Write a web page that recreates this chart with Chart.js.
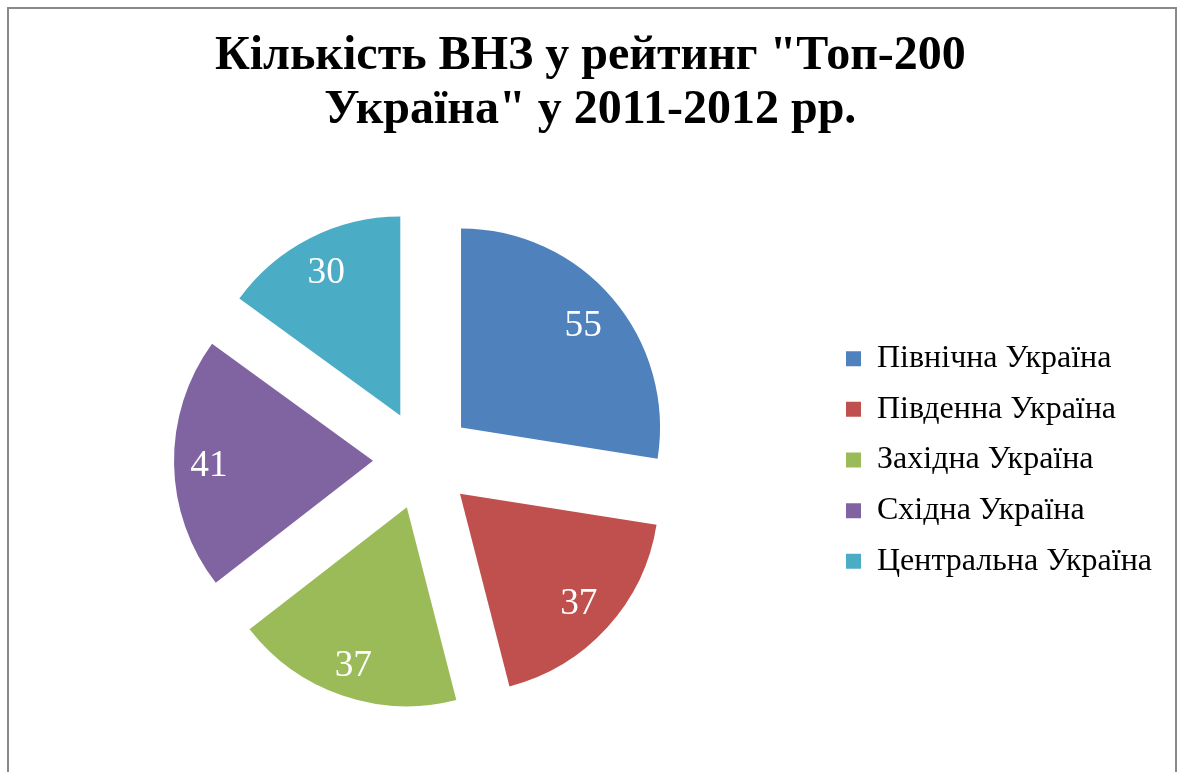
<!DOCTYPE html>
<html>
<head>
<meta charset="utf-8">
<script src="https://cdn.jsdelivr.net/npm/chart.js@4"></script>
<style>
  html, body { margin: 0; padding: 0; background: #fff; overflow: hidden; }
  #ramka {
    position: absolute; left: 7px; top: 7px;
    width: 1166px; height: 800px;
    border: 2px solid #898989; border-bottom: none;
  }
  #grafik { position: absolute; left: 0; top: 0; }
</style>
</head>
<body>
<div id="ramka"></div>
<canvas id="grafik" width="1179" height="800"></canvas>
<script>
// дані діаграми
const regiony = ["Північна Україна", "Південна Україна", "Західна Україна", "Східна Україна", "Центральна Україна"];
const kilkist = [55, 37, 37, 41, 30];
const kolory = ["#4F81BD", "#C0504D", "#9BBB59", "#8064A2", "#4BACC6"];
const zagolovok = ["Кількість ВНЗ у рейтинг \"Топ-200", "Україна\" у 2011-2012 рр."];

const ROZSUV = 50; // наскільки відсунуті сектори
const shryft = "'Liberation Serif', 'Times New Roman', serif";

// малюємо сектори зі зсувом від центру (як "розрізана" діаграма в Excel)
const rozsuvPlugin = {
  id: "rozsuv",
  beforeDatasetDraw(chart, args) {
    const ctx = chart.ctx;
    args.meta.data.forEach((arc) => {
      const mid = (arc.startAngle + arc.endAngle) / 2;
      ctx.save();
      ctx.translate(Math.cos(mid) * ROZSUV, Math.sin(mid) * ROZSUV);
      arc.draw(ctx);
      ctx.restore();
    });
    return false;
  },
  afterDatasetsDraw(chart) {
    const ctx = chart.ctx;
    const meta = chart.getDatasetMeta(0);
    const rozmir = 37.33;
    ctx.save();
    ctx.font = rozmir + "px " + shryft;
    ctx.fillStyle = "#fff";
    ctx.textAlign = "center";
    ctx.textBaseline = "alphabetic";
    meta.data.forEach((arc, i) => {
      const mid = (arc.startAngle + arc.endAngle) / 2;
      const cos = Math.cos(mid);
      const sin = Math.sin(mid);
      const tekst = String(kilkist[i]);
      const w = ctx.measureText(tekst).width;
      const h = rozmir * 0.676; // висота цифр
      // підпис всередині сектора, біля зовнішнього краю
      const pol = Math.abs(cos) * w / 2 + Math.abs(sin) * h / 2;
      const r = arc.outerRadius - pol - 16 + ROZSUV;
      ctx.fillText(tekst, arc.x + cos * r, arc.y + sin * r + h / 2);
    });
    ctx.restore();
  }
};

const config = {
  type: "pie",
  data: {
    labels: regiony,
    datasets: [
      {
        data: kilkist,
        backgroundColor: kolory,
        borderWidth: 0,
      },
    ],
  },
  options: {
    responsive: false,
    animation: false,
    events: [],
    radius: 199,
    layout: {
      padding: { left: 18.7, right: 17, top: 0, bottom: 17.5 },
    },
    plugins: {
      tooltip: { enabled: false },
      title: {
        display: true,
        text: zagolovok,
        color: "#000",
        font: { family: shryft, size: 48, weight: "bold", lineHeight: 1.13 },
        padding: { top: 29, bottom: 0 },
      },
      legend: {
        position: "right",
        fullSize: false,
        labels: {
          color: "#000",
          font: { family: shryft, size: 32 },
          boxWidth: 15,
          boxHeight: 15,
          padding: 18.67,
        },
      },
    },
  },
  plugins: [rozsuvPlugin],
};

new Chart(document.getElementById("grafik"), config);
</script>
</body>
</html>
